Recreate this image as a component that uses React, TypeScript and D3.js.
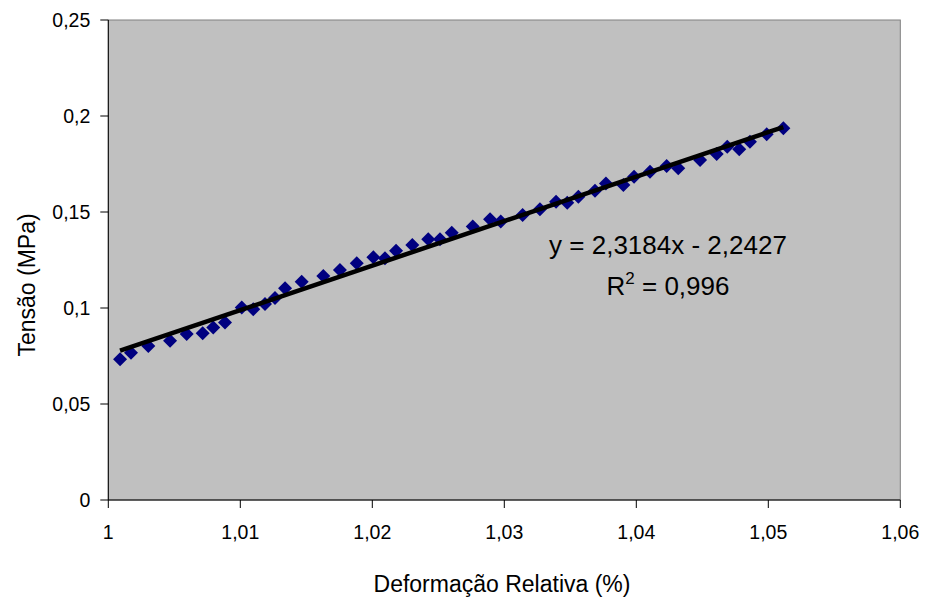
import React from "react";
import * as d3 from "d3";

const xValues = [
  1.00089, 1.00172, 1.00303, 1.00468, 1.00594, 1.00715, 1.00795, 1.00884,
  1.01011, 1.01098, 1.01187, 1.01263, 1.01339, 1.01465, 1.01629, 1.01755,
  1.01882, 1.02008, 1.02096, 1.0218, 1.02303, 1.02424, 1.02513, 1.02602,
  1.02761, 1.02892, 1.02973, 1.03139, 1.0327, 1.03392, 1.03477, 1.03561,
  1.03687, 1.0377, 1.03902, 1.03983, 1.04104, 1.0423, 1.04318, 1.04483,
  1.04609, 1.04689, 1.0478, 1.04861, 1.04988, 1.05114,
];
const yValues = [
  0.0733, 0.0767, 0.0802, 0.083, 0.0865, 0.0868, 0.0899, 0.0924,
  0.1003, 0.0993, 0.1021, 0.1052, 0.1103, 0.1137, 0.1167, 0.1198,
  0.1233, 0.1264, 0.1259, 0.1298, 0.1328, 0.1358, 0.1358, 0.1392,
  0.1425, 0.1462, 0.145, 0.1484, 0.1514, 0.1554, 0.1548, 0.158,
  0.1611, 0.1649, 0.1641, 0.1684, 0.171, 0.174, 0.1728, 0.1771,
  0.1802, 0.184, 0.1827, 0.1866, 0.1905, 0.1936,
];
const xTicks = [1, 1.01, 1.02, 1.03, 1.04, 1.05, 1.06];
const yTicks = [0, 0.05, 0.1, 0.15, 0.2, 0.25];
const slope = 2.3184;
const intercept = -2.2427;
const equationText = "y = 2,3184x - 2,2427";
const r2Text = "0,996";
const xTitle = "Deformação Relativa (%)";
const yTitle = "Tensão (MPa)";

const fmt = (v: number) => String(+v.toFixed(4)).replace(".", ",");

export default function App() {
  const W = 925, H = 601;
  const left = 108.3, right = 900.3, top = 20, bottom = 500;
  const x = d3.scaleLinear().domain([1, 1.06]).range([left, right]);
  const y = d3.scaleLinear().domain([0, 0.25]).range([bottom, top]);
  const font = "Arial, 'Liberation Sans', sans-serif";
  const xMin = d3.min(xValues) as number;
  const xMax = d3.max(xValues) as number;
  const trend = d3.line<number>().x((v) => x(v)).y((v) => y(slope * v + intercept));
  const r = 7;
  const diamond = `M0,${-r}L${r},0L0,${r}L${-r},0Z`;
  return (
    <svg width={W} height={H} style={{ position: "absolute", left: 0, top: 0, background: "#fff" }}>
      <rect x={left} y={top} width={right - left} height={bottom - top} fill="#C0C0C0" stroke="#808080" strokeWidth={1} />
      <line x1={left} x2={left} y1={top} y2={bottom} stroke="#000" />
      <line x1={left} x2={right} y1={bottom} y2={bottom} stroke="#000" />
      {yTicks.map((t) => (
        <g key={"y" + t}>
          <line x1={left - 8} x2={left} y1={y(t)} y2={y(t)} stroke="#000" />
          <text x={left - 18} y={y(t)} dy="0.35em" textAnchor="end" fontFamily={font} fontSize={19.5}>
            {fmt(t)}
          </text>
        </g>
      ))}
      {xTicks.map((t) => (
        <g key={"x" + t}>
          <line x1={x(t)} x2={x(t)} y1={bottom} y2={bottom + 8} stroke="#000" />
          <text x={x(t)} y={539} textAnchor="middle" fontFamily={font} fontSize={19.5}>
            {fmt(t)}
          </text>
        </g>
      ))}
      {xValues.map((xv, i) => (
        <path key={i} d={diamond} transform={`translate(${x(xv)},${y(yValues[i])})`} fill="#000080" />
      ))}
      <path d={trend([xMin, xMax]) || ""} stroke="#000" strokeWidth={4.5} fill="none" />
      <text x={668} y={254} textAnchor="middle" fontFamily={font} fontSize={26}>
        {equationText}
      </text>
      <text x={668} y={295} textAnchor="middle" fontFamily={font} fontSize={26}>
        R<tspan dy={-11} fontSize={17}>2</tspan>
        <tspan dy={11}>{" = " + r2Text}</tspan>
      </text>
      <text x={502} y={592} textAnchor="middle" fontFamily={font} fontSize={23}>
        {xTitle}
      </text>
      <text transform="translate(35,285) rotate(-90)" textAnchor="middle" fontFamily={font} fontSize={23}>
        {yTitle}
      </text>
    </svg>
  );
}
